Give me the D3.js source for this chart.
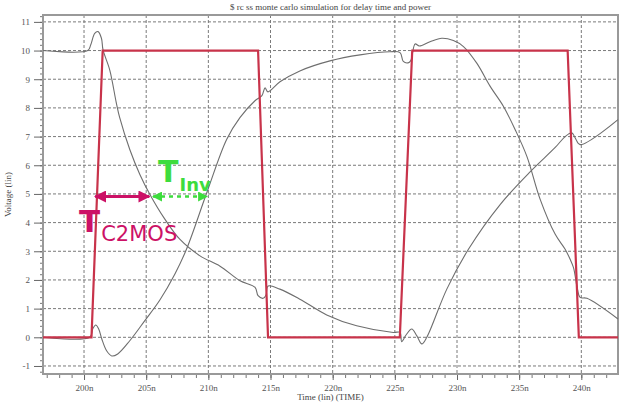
<!DOCTYPE html>
<html>
<head>
<meta charset="utf-8">
<script src="https://cdn.jsdelivr.net/npm/d3@7"></script>
<style>
  body { margin: 0; background: #fff; }
  svg { display: block; }
  .tick text { font-family: "Liberation Serif", serif; font-size: 9px; fill: #555; }
  .label { font-family: "Liberation Serif", serif; font-size: 9px; fill: #444; }
</style>
</head>
<body>
<svg width="625" height="405"></svg>
<script>
// pulse (input clock) - red
const pulseT = [196.7, 200.6, 201.5, 214.0, 214.8, 225.4, 226.4, 238.9, 239.8, 242.95];
const pulseV = [0, 0, 10, 10, 0, 0, 10, 10, 0, 0];

// gray curve A (falls in 1st pulse, rises in 2nd)
const aT = [196.7, 200.3, 200.54, 200.86, 201.13, 201.4, 201.53, 202.07, 202.6, 202.87, 203.68, 204.49, 205.29,
  206.5, 207.7, 209.33, 210.94, 212.55, 213.76, 214.0, 214.41, 214.63, 214.81, 215.75, 217.36, 219.52, 221.93,
  224.88, 225.42, 225.55, 225.9, 226.36, 226.76, 227.17, 227.57, 229.18, 230.92, 233.47, 235.9, 237.9,
  238.7, 239.24, 239.5, 239.9, 242.95];
const aV = [10, 10, 10.2, 10.6, 10.66, 10.43, 10.02, 9.32, 8.17, 7.66, 6.55, 5.68, 4.99,
  4.12, 3.42, 2.84, 2.48, 1.97, 1.74, 1.45, 1.36, 1.47, 1.79, 1.68, 1.33, 0.78, 0.40,
  0.17, 0.17, -0.15, 0.08, 0.29, 0.06, -0.23, 0.0, 1.68, 3.07, 4.63, 5.78, 6.62,
  7.0, 7.13, 6.96, 6.72, 7.59];

// gray curve B (rises in 1st pulse, falls in 2nd)
const bT = [196.7, 200.46, 200.7, 200.94, 201.18, 201.43, 201.83, 202.23, 202.71, 203.68, 204.89, 206.1, 207.3,
  208.24, 209.88, 211.47, 212.54, 213.75, 214.31, 214.56, 214.79, 215.76, 217.36, 219.78, 222.2, 224.61,
  225.42, 225.68, 226.06, 226.28, 226.63, 226.97, 227.83, 228.78, 229.71, 230.52, 231.59, 232.67, 233.74,
  234.68, 235.62, 236.69, 237.9, 238.7, 239.1, 239.37, 239.69, 239.9, 240.45, 242.95];
const bV = [0, 0, 0.29, 0.43, 0.29, -0.06, -0.48, -0.65, -0.58, -0.12, 0.58, 1.3, 2.2,
  3.07, 5.05, 6.9, 7.66, 8.25, 8.43, 8.7, 8.56, 8.91, 9.29, 9.64, 9.85, 9.96,
  9.93, 9.62, 9.57, 9.65, 10.23, 10.16, 10.31, 10.43, 10.35, 10.14, 9.56, 8.75, 8.05,
  7.24, 6.31, 4.81, 3.59, 3.07, 2.72, 2.43, 1.68, 1.39, 1.36, 0.64];

const xTicks = [200, 205, 210, 215, 220, 225, 230, 235, 240];
const yTicks = [-1, 0, 1, 2, 3, 4, 5, 6, 7, 8, 9, 10, 11];

const svg = d3.select('svg');
const width = +svg.attr('width');
const height = +svg.attr('height');
const margin = { top: 15, right: 7, bottom: 31, left: 43 };

const x = d3.scaleLinear().domain([196.7, 242.95]).range([margin.left, width - margin.right]);
const y = d3.scaleLinear().domain([-1.28, 11.24]).range([height - margin.bottom, margin.top]);

svg.append('rect').attr('width', width).attr('height', height).attr('fill', '#fff');

// grid
const grid = svg.append('g').attr('stroke', '#7a7a7a').attr('stroke-dasharray', '3,2').attr('stroke-width', 1);
grid.selectAll('.vg').data(xTicks).enter().append('line')
  .attr('x1', d => x(d)).attr('x2', d => x(d))
  .attr('y1', margin.top).attr('y2', height - margin.bottom);
grid.selectAll('.hg').data(yTicks).enter().append('line')
  .attr('y1', d => y(d)).attr('y2', d => y(d))
  .attr('x1', margin.left).attr('x2', width - margin.right);

// minor ticks
svg.append('g').attr('transform', `translate(${margin.left},0)`)
  .call(d3.axisLeft(y).tickValues(d3.range(-1.2, 11.21, 0.2)).tickSize(3).tickFormat(''))
  .call(g => g.select('.domain').remove())
  .selectAll('line').attr('stroke', '#777');
svg.append('g').attr('transform', `translate(0,${height - margin.bottom})`)
  .call(d3.axisBottom(x).tickValues(d3.range(197, 243, 1)).tickSize(4).tickFormat(''))
  .call(g => g.select('.domain').remove())
  .selectAll('line').attr('stroke', '#777');

// major axes
svg.append('g').attr('transform', `translate(${margin.left},0)`)
  .call(d3.axisLeft(y).tickValues(yTicks).tickSize(9).tickPadding(4).tickFormat(d => d))
  .call(g => g.select('.domain').remove())
  .selectAll('line').attr('stroke', '#666');
svg.append('g').attr('transform', `translate(0,${height - margin.bottom})`)
  .call(d3.axisBottom(x).tickValues(xTicks).tickSize(6).tickPadding(5).tickFormat(d => d + 'n'))
  .call(g => g.select('.domain').remove())
  .selectAll('line').attr('stroke', '#666');

// frame
svg.append('rect')
  .attr('x', margin.left).attr('y', margin.top)
  .attr('width', width - margin.left - margin.right)
  .attr('height', height - margin.top - margin.bottom)
  .attr('fill', 'none').attr('stroke', '#999').attr('stroke-width', 2);

// curves
const line = d3.line().x(d => x(d[0])).y(d => y(d[1]));
const smooth = d3.line().x(d => x(d[0])).y(d => y(d[1])).curve(d3.curveCatmullRom.alpha(0.5));

svg.append('path').datum(d3.zip(aT, aV)).attr('d', smooth)
  .attr('fill', 'none').attr('stroke', '#6e6e6e').attr('stroke-width', 1.1);
svg.append('path').datum(d3.zip(bT, bV)).attr('d', smooth)
  .attr('fill', 'none').attr('stroke', '#6e6e6e').attr('stroke-width', 1.1);
svg.append('path').datum(d3.zip(pulseT, pulseV)).attr('d', line)
  .attr('fill', 'none').attr('stroke', '#c8334a').attr('stroke-width', 2.2);

// annotations
const defs = svg.append('defs');
const marker = (id, color) => defs.append('marker').attr('id', id)
  .attr('viewBox', '0 0 10 10').attr('refX', 9).attr('refY', 5)
  .attr('markerWidth', 4).attr('markerHeight', 4).attr('orient', 'auto-start-reverse')
  .append('path').attr('d', 'M0,0L10,5L0,10z').attr('fill', color);
marker('mArr', '#cc1166');
marker('gArr', '#3ddc3d');

const arrowV = 4.91;
svg.append('line')
  .attr('x1', x(200.9)).attr('x2', x(205.25)).attr('y1', y(arrowV)).attr('y2', y(arrowV))
  .attr('stroke', '#cc1166').attr('stroke-width', 3)
  .attr('marker-start', 'url(#mArr)').attr('marker-end', 'url(#mArr)');
svg.append('line')
  .attr('x1', x(205.55)).attr('x2', x(209.9)).attr('y1', y(arrowV)).attr('y2', y(arrowV))
  .attr('stroke', '#3ddc3d').attr('stroke-width', 2.5).attr('stroke-dasharray', '4,4')
  .attr('marker-start', 'url(#gArr)').attr('marker-end', 'url(#gArr)');

const tC = svg.append('text').attr('x', x(199.6)).attr('y', y(3.66))
  .attr('font-family', 'DejaVu Sans, sans-serif').attr('fill', '#cc1166');
tC.append('tspan').attr('font-size', 31).attr('font-weight', 'bold').text('T');
tC.append('tspan').attr('font-size', 21).attr('dy', 9).attr('dx', 1).text('C2MOS');

const tI = svg.append('text').attr('x', x(205.95)).attr('y', y(5.43))
  .attr('font-family', 'DejaVu Sans, sans-serif').attr('fill', '#3ddc3d');
tI.append('tspan').attr('font-size', 30).attr('font-weight', 'bold').text('T');
tI.append('tspan').attr('font-size', 18).attr('font-weight', 'bold').attr('dy', 9).attr('dx', 1).text('Inv');

// labels
svg.append('text').attr('class', 'label').attr('x', (margin.left + width - margin.right) / 2).attr('y', 10)
  .attr('text-anchor', 'middle').text('$ rc ss monte carlo simulation for delay time and power');
svg.append('text').attr('class', 'label').attr('x', (margin.left + width - margin.right) / 2).attr('y', 400)
  .attr('text-anchor', 'middle').text('Time (lin) (TIME)');
svg.append('text').attr('class', 'label')
  .attr('transform', `translate(11,${(margin.top + height - margin.bottom) / 2}) rotate(-90)`)
  .attr('text-anchor', 'middle').text('Voltage (lin)');
</script>
</body>
</html>
